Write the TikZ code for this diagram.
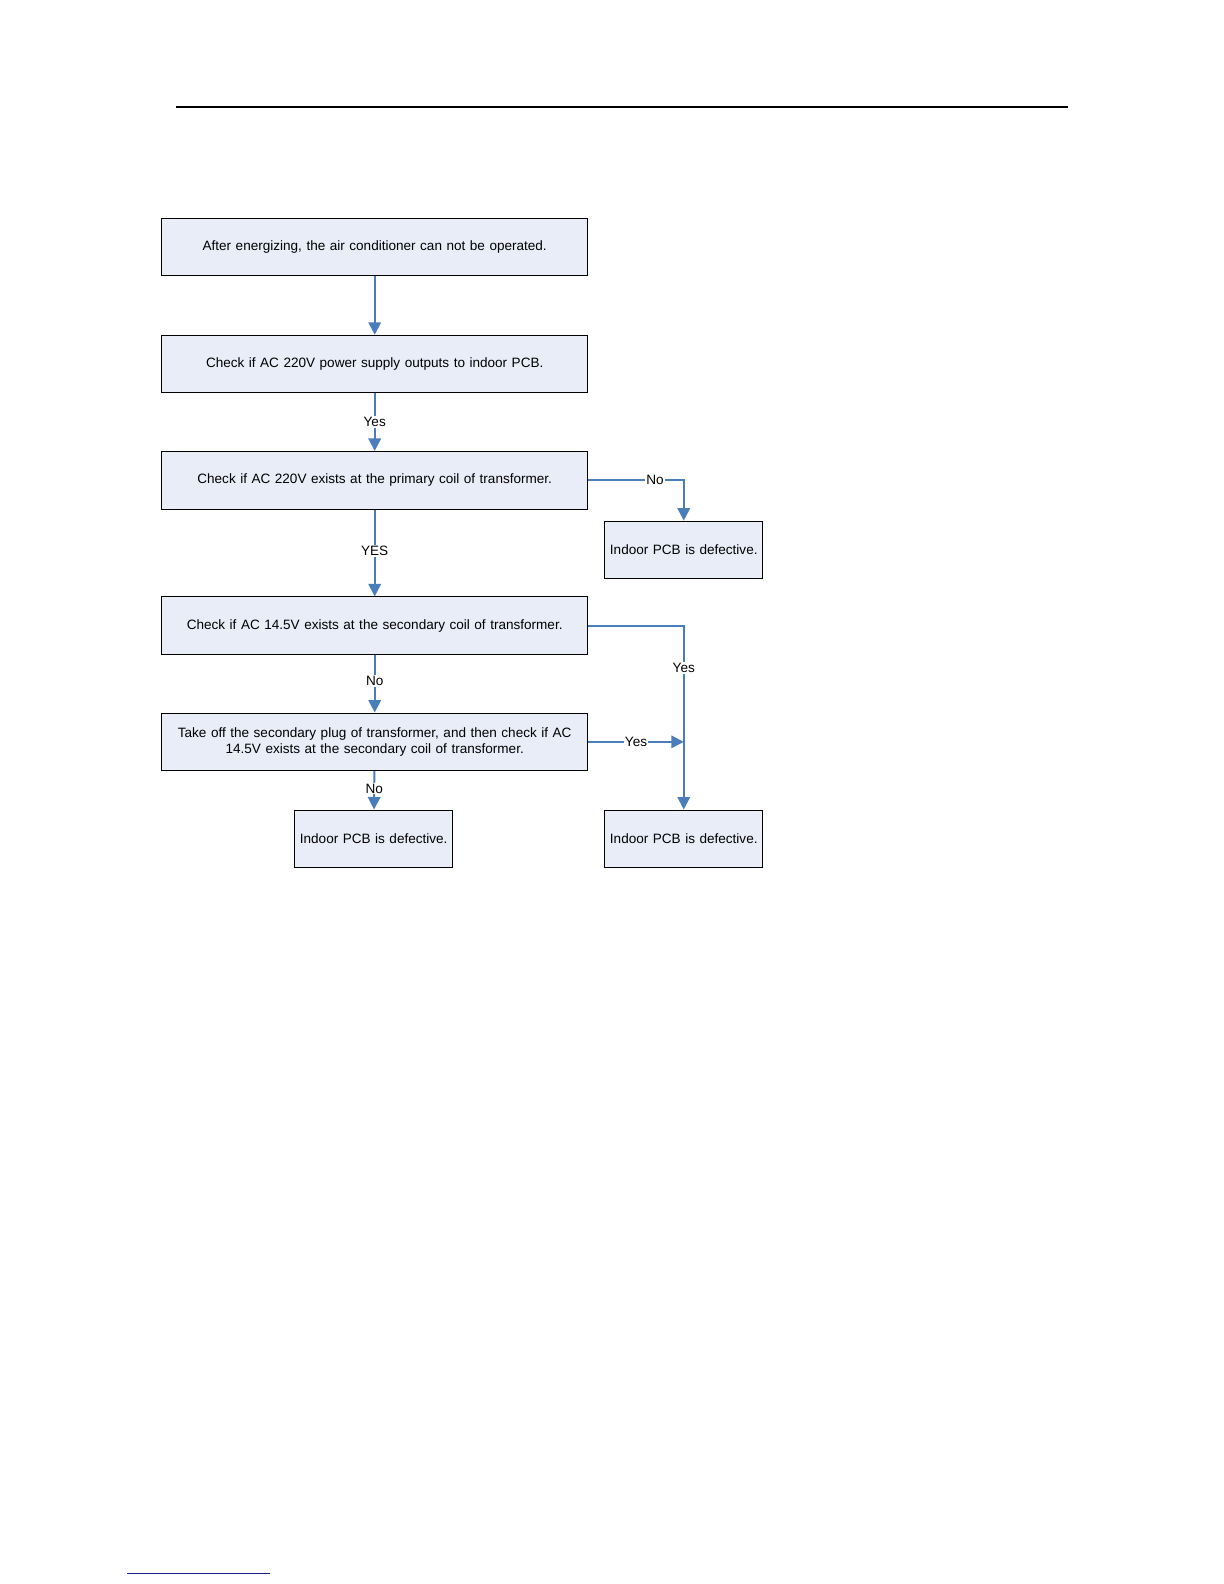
\documentclass[tikz,border=0pt]{standalone}
\usepackage{fontspec}
\setmainfont{Liberation Sans}
\usetikzlibrary{arrows.meta}
\definecolor{boxfill}{HTML}{E9EDF8}
\definecolor{arrowblue}{HTML}{4A7EBB}
\definecolor{navyline}{HTML}{1A1A8C}
\begin{document}
\begin{tikzpicture}[x=1.01bp,y=-1.01bp,
  box/.style={draw=black, line width=1bp, fill=boxfill, minimum height=57.6bp, inner sep=2bp, font=\fontsize{13.6}{15.5}\selectfont, align=center},
  wide/.style={box, minimum width=426bp, text width=418bp},
  small/.style={box, minimum width=155.5bp, text width=154bp},
  conn/.style={draw=arrowblue, line width=1.9bp, -{Triangle[width=12.5bp,length=12.5bp]}},
  lab/.style={fill=white, inner sep=1bp, font=\fontsize{13.6}{15.5}\selectfont}]
\useasboundingbox (0,0) rectangle (1211.88,1568.32);
\fill[white] (0,0) rectangle (1211.88,1568.32);
\coordinate (tl1) at (174,106);
\coordinate (tl2) at (1057,106);
\draw[black, line width=1.2bp] (tl1) -- (tl2);
\coordinate (bl1) at (126,1558);
\coordinate (bl2) at (267,1558);
\draw[navyline, line width=1.2bp] (bl1) -- (bl2);

\node[wide] (b1) at (371,244.5) {After energizing, the air conditioner can not be operated.};
\node[wide] (b2) at (371,360.5) {Check if AC 220V power supply outputs to indoor PCB.};
\node[wide] (b3) at (371,475.5) {Check if AC 220V exists at the primary coil of transformer.};
\node[wide] (b4) at (371,619.5) {Check if AC 14.5V exists at the secondary coil of transformer.};
\node[wide] (b5) at (371,734.5) {Take off the secondary plug of transformer, and then check if AC\\14.5V exists at the secondary coil of transformer.};
\node[small] (r1) at (677,544.5) {Indoor PCB is defective.};
\node[small] (d1) at (370,830.5) {Indoor PCB is defective.};
\node[small] (d2) at (677,830.5) {Indoor PCB is defective.};

\coordinate (j1) at (677,475.5);
\coordinate (j2) at (677,619.5);
\coordinate (j3) at (677,734.5);

\draw[conn] (b1) -- (b2);
\draw[conn] (b2) -- node[lab, pos=0.5] {Yes} (b3);
\draw[conn] (b3) -- node[lab, pos=0.48] {YES} (b4);
\draw[conn] (b4) -- node[lab, pos=0.45] {No} (b5);
\draw[conn] (b5) -- node[lab, pos=0.45] {No} (d1);
\draw[conn] (b3.east) -- node[lab, pos=0.7] {No} (j1) -- (r1.north);
\draw[conn] (b4.east) -- (j2) -- node[lab, pos=0.23] {Yes} (d2.north);
\draw[conn] (b5.east) -- node[lab, pos=0.5] {Yes} (j3);
\end{tikzpicture}
\end{document}
